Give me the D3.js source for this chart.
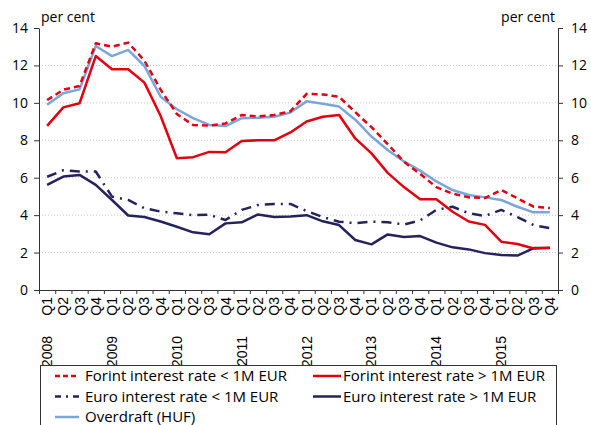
<!DOCTYPE html>
<html>
<head>
<meta charset="utf-8">
<script src="https://cdn.jsdelivr.net/npm/d3@7"></script>
<style>
  body { margin: 0; background: #fff; }
  svg { display: block; font-family: "Open Sans", "Liberation Sans", Arial, sans-serif; }
</style>
</head>
<body>
<svg id="chart" width="591" height="425"></svg>
<script>
// data
var years = ['2008', '2009', '2010', '2011', '2012', '2013', '2014', '2015'];
var quarters = ['Q1', 'Q2', 'Q3', 'Q4'];
var yTicks = [0, 2, 4, 6, 8, 10, 12, 14];

var forintSmall = [10.15, 10.7, 10.9, 13.18, 13.0, 13.22, 12.25, 10.7,
    9.4, 8.82, 8.78, 8.9, 9.35, 9.28, 9.35, 9.55,
    10.48, 10.45, 10.33, 9.5, 8.7, 7.8, 6.85, 6.2,
    5.5, 5.15, 4.95, 4.92, 5.34, 4.9, 4.45, 4.38];
var forintLarge = [8.77, 9.76, 9.98, 12.5, 11.8, 11.8, 11.08, 9.3,
    7.04, 7.1, 7.38, 7.36, 7.96, 8.0, 8.0, 8.42,
    9.0, 9.26, 9.35, 8.1, 7.3, 6.26, 5.5, 4.85,
    4.85, 4.18, 3.66, 3.48, 2.58, 2.46, 2.22, 2.26];
var euroSmall = [6.05, 6.4, 6.33, 6.33, 4.99, 4.81, 4.37, 4.19,
    4.1, 4.0, 4.02, 3.74, 4.28, 4.54, 4.6, 4.6,
    4.22, 3.9, 3.65, 3.57, 3.65, 3.62, 3.5, 3.72,
    4.28, 4.45, 4.1, 3.96, 4.28, 3.9, 3.47, 3.3];
var euroLarge = [5.62, 6.06, 6.15, 5.62, 4.81, 3.98, 3.9, 3.66,
    3.38, 3.08, 2.98, 3.56, 3.62, 4.04, 3.9, 3.93,
    4.0, 3.67, 3.47, 2.67, 2.44, 2.97, 2.83, 2.88,
    2.53, 2.28, 2.17, 1.97, 1.87, 1.84, 2.24, 2.24];
var overdraft = [9.9, 10.51, 10.72, 13.04, 12.5, 12.83, 11.97, 10.33,
    9.66, 9.18, 8.82, 8.76, 9.18, 9.2, 9.26, 9.48,
    10.08, 9.95, 9.8, 9.1, 8.2, 7.48, 6.87, 6.38,
    5.8, 5.34, 5.08, 4.95, 4.81, 4.45, 4.15, 4.15];

var seriesNames = ['Forint interest rate < 1M EUR', 'Forint interest rate > 1M EUR',
    'Euro interest rate < 1M EUR', 'Euro interest rate > 1M EUR', 'Overdraft (HUF)'];

(function () {
    var red = '#e3000f', navy = '#25235e', lightBlue = '#7aa6dc';
    var series = [
        { name: seriesNames[0], values: forintSmall, color: red, dash: '6,4', legDash: '5,3' },
        { name: seriesNames[1], values: forintLarge, color: red, dash: null },
        { name: seriesNames[2], values: euroSmall, color: navy, dash: '10,6,2,6', legDash: '6,5,2,5' },
        { name: seriesNames[3], values: euroLarge, color: navy, dash: null },
        { name: seriesNames[4], values: overdraft, color: lightBlue, dash: null }
    ];

    var labels = [];
    years.forEach(function (yr) {
        quarters.forEach(function (q) { labels.push({ year: q === 'Q1' ? yr : '', q: q }); });
    });

    var svg = d3.select('#chart');
    var pLeft = 39, pRight = 558, pTop = 28, pBottom = 290;

    var x = d3.scaleBand().domain(d3.range(labels.length)).range([pLeft, pRight]);
    var xEdge = d3.scaleLinear().domain([0, labels.length]).range([pLeft, pRight]);
    var y = d3.scaleLinear().domain([0, 14]).range([pBottom, pTop]);

    // grid
    svg.append('g').selectAll('line')
        .data(yTicks.filter(function (d) { return d > 0 && d < 14; }))
        .enter().append('line')
        .attr('x1', pLeft).attr('x2', pRight)
        .attr('y1', function (d) { return y(d); })
        .attr('y2', function (d) { return y(d); })
        .attr('stroke', '#c8c8c8')
        .attr('stroke-dasharray', '1,2');

    // axes
    function styleAxis(g) {
        g.select('.domain').attr('stroke', '#333');
        g.selectAll('.tick line').attr('stroke', '#333');
        g.selectAll('.tick text').attr('fill', '#000')
            .style('font-family', '"Open Sans", sans-serif').style('font-size', '14px');
    }
    svg.append('g').attr('transform', 'translate(' + pLeft + ',0)')
        .call(d3.axisLeft(y).tickValues(yTicks).tickSize(5).tickSizeOuter(0).tickPadding(6))
        .call(styleAxis);
    svg.append('g').attr('transform', 'translate(' + pRight + ',0)')
        .call(d3.axisRight(y).tickValues(yTicks).tickSize(5).tickSizeOuter(0).tickPadding(8))
        .call(styleAxis);
    svg.append('g').attr('transform', 'translate(0,' + pBottom + ')')
        .call(d3.axisBottom(xEdge).tickValues(d3.range(labels.length + 1)).tickSize(4).tickSizeOuter(0).tickFormat(''))
        .call(styleAxis);

    // x labels
    var xl = svg.append('g').style('font-family', '"Liberation Sans", Arial, sans-serif').style('font-size', '14px');
    xl.selectAll('text.q').data(labels).enter().append('text')
        .attr('class', 'q')
        .attr('transform', function (d, i) { return 'translate(' + (x(i) + x.bandwidth() / 2 + 5) + ',297) rotate(-90)'; })
        .attr('text-anchor', 'end')
        .text(function (d) { return d.q; });
    xl.selectAll('text.yr').data(labels.filter(function (d) { return d.year; })).enter().append('text')
        .attr('class', 'yr')
        .attr('transform', function (d, i) { return 'translate(' + (x(i * 4) + x.bandwidth() / 2 + 5) + ',336) rotate(-90)'; })
        .attr('text-anchor', 'end')
        .text(function (d) { return d.year; });

    // unit labels
    svg.append('text').attr('x', 41).attr('y', 22).style('font-size', '14px').text('per cent');
    svg.append('text').attr('x', 555).attr('y', 22).attr('text-anchor', 'end').style('font-size', '14px').text('per cent');

    // lines
    var line = d3.line()
        .x(function (d, i) { return x(i) + x.bandwidth() / 2; })
        .y(function (d) { return y(d); });

    var drawOrder = [4, 3, 2, 1, 0];
    svg.append('g').selectAll('path')
        .data(drawOrder.map(function (k) { return series[k]; }))
        .enter().append('path')
        .attr('d', function (d) { return line(d.values); })
        .attr('fill', 'none')
        .attr('stroke', function (d) { return d.color; })
        .attr('stroke-width', 2.5)
        .attr('stroke-linejoin', 'round')
        .attr('stroke-dasharray', function (d) { return d.dash; });

    // legend
    svg.append('rect').attr('x', 40.5).attr('y', 365.5).attr('width', 516).attr('height', 70)
        .attr('fill', '#fff').attr('stroke', '#333');
    var leg = svg.append('g').selectAll('g').data(series).enter().append('g')
        .attr('transform', function (d, i) {
            var col = i % 2, row = Math.floor(i / 2);
            return 'translate(' + (col ? 313 : 55) + ',' + (376 + row * 20.5) + ')';
        });
    leg.append('line').attr('x1', 0).attr('x2', function (d, i) { return i % 2 ? 28 : 24; })
        .attr('stroke', function (d) { return d.color; })
        .attr('stroke-width', 2.5)
        .attr('stroke-dasharray', function (d) { return d.legDash || null; });
    leg.append('text').attr('x', 30).attr('y', 5)
        .style('font-size', '15px').text(function (d) { return d.name; });
})();
</script>
</body>
</html>
